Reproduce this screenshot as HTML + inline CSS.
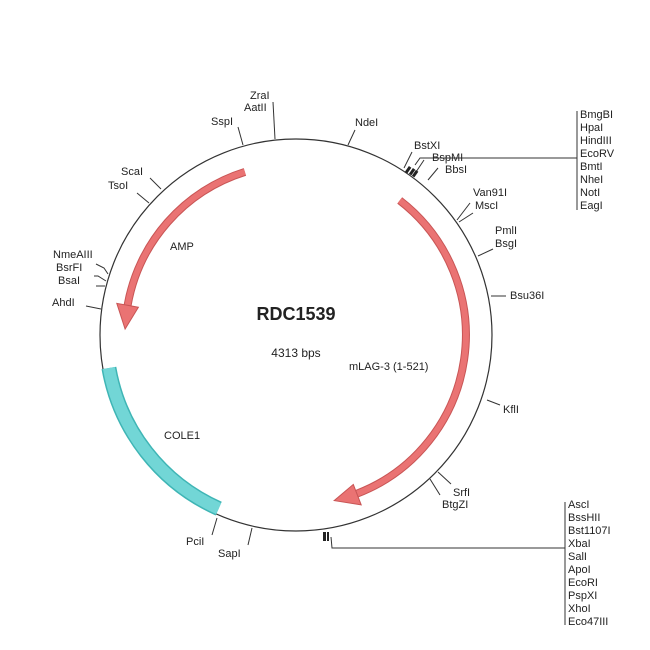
<!DOCTYPE html>
<html><head><style>
html,body{margin:0;padding:0;background:#fff;}
svg{display:block;font-family:"Liberation Sans",Arial,sans-serif;}
svg text{font-family:"Liberation Sans",Arial,sans-serif;font-size:11px;fill:#222;}
</style></head><body>
<svg width="650" height="650" viewBox="0 0 650 650" xmlns="http://www.w3.org/2000/svg">
<circle cx="296" cy="335" r="196" fill="none" stroke="#333" stroke-width="1.2"/>
<path d="M218.7,508.6 A190,190 0 0 1 108.9,368.0" fill="none" stroke="#3fb5b5" stroke-width="15"/>
<path d="M218.7,508.6 A190,190 0 0 1 108.9,368.0" fill="none" stroke="#72d6d6" stroke-width="12"/>
<path d="M399.7,200.4 A170,170 0 0 1 356.9,493.7" fill="none" stroke="#c85555" stroke-width="8"/>
<path d="M399.7,200.4 A170,170 0 0 1 356.9,493.7" fill="none" stroke="#ea7373" stroke-width="6"/>
<polygon points="353.3,484.4 361.2,504.9 334.2,500.6" fill="#ea7373" stroke="#c85555" stroke-width="1"/>
<path d="M244.9,171.9 A171,171 0 0 0 127.6,305.3" fill="none" stroke="#c85555" stroke-width="8"/>
<path d="M244.9,171.9 A171,171 0 0 0 127.6,305.3" fill="none" stroke="#ea7373" stroke-width="6"/>
<polygon points="138.4,307.2 116.8,303.4 125.1,329.0" fill="#ea7373" stroke="#c85555" stroke-width="1"/>

<g stroke="#333" stroke-width="1" fill="none">
<line x1="275" y1="139" x2="273" y2="102"/>
<line x1="243" y1="145" x2="238" y2="127"/>
<line x1="348" y1="145" x2="355" y2="130"/>
<line x1="404" y1="168" x2="412" y2="152"/>
<line x1="416" y1="172" x2="424" y2="160"/>
<line x1="428" y1="180" x2="438" y2="168"/>
<polyline points="415,165 420,158 577,158"/>
<line x1="577" y1="111" x2="577" y2="210"/>
<line x1="457" y1="220" x2="470" y2="203"/>
<line x1="459" y1="222" x2="473" y2="213"/>
<line x1="478" y1="256" x2="493" y2="249"/>
<line x1="491" y1="296" x2="506" y2="296"/>
<line x1="487" y1="400" x2="500" y2="405"/>
<line x1="438" y1="472" x2="451" y2="484"/>
<line x1="430" y1="479" x2="440" y2="495"/>
<polyline points="331,537 332,548 565,548"/>
<line x1="565" y1="502" x2="565" y2="625"/>
<line x1="252" y1="528" x2="248" y2="545"/>
<line x1="217" y1="518" x2="212" y2="535"/>
<line x1="161" y1="189" x2="150" y2="178"/>
<line x1="149" y1="203" x2="137" y2="193"/>
<polyline points="108,274 104,268 96,264"/>
<polyline points="106,281 98,276 94,276"/>
<polyline points="105,286 96,286"/>
<line x1="101" y1="309" x2="86" y2="306"/>
</g>
<g fill="#222">
<rect x="407" y="166" width="3" height="7" transform="rotate(35 408 169)"/>
<rect x="411" y="168" width="3" height="7" transform="rotate(35 412 171)"/>
<rect x="414" y="170" width="3" height="7" transform="rotate(35 415 173)"/>
<rect x="323" y="532" width="3" height="9"/>
<rect x="327" y="532" width="2" height="9"/>
</g>

<text x="250" y="99">ZraI</text>
<text x="244" y="111">AatII</text>
<text x="211" y="125">SspI</text>
<text x="355" y="126">NdeI</text>
<text x="414" y="149">BstXI</text>
<text x="432" y="161">BspMI</text>
<text x="445" y="173">BbsI</text>
<text x="580" y="118">BmgBI</text>
<text x="580" y="131">HpaI</text>
<text x="580" y="144">HindIII</text>
<text x="580" y="157">EcoRV</text>
<text x="580" y="170">BmtI</text>
<text x="580" y="183">NheI</text>
<text x="580" y="196">NotI</text>
<text x="580" y="209">EagI</text>
<text x="473" y="196">Van91I</text>
<text x="475" y="209">MscI</text>
<text x="495" y="234">PmlI</text>
<text x="495" y="247">BsgI</text>
<text x="510" y="299">Bsu36I</text>
<text x="503" y="413">KflI</text>
<text x="453" y="496">SrfI</text>
<text x="442" y="508">BtgZI</text>
<text x="568" y="508">AscI</text>
<text x="568" y="521">BssHII</text>
<text x="568" y="534">Bst1107I</text>
<text x="568" y="547">XbaI</text>
<text x="568" y="560">SalI</text>
<text x="568" y="573">ApoI</text>
<text x="568" y="586">EcoRI</text>
<text x="568" y="599">PspXI</text>
<text x="568" y="612">XhoI</text>
<text x="568" y="625">Eco47III</text>
<text x="218" y="557">SapI</text>
<text x="186" y="545">PciI</text>
<text x="121" y="175">ScaI</text>
<text x="108" y="189">TsoI</text>
<text x="53" y="258">NmeAIII</text>
<text x="56" y="271">BsrFI</text>
<text x="58" y="284">BsaI</text>
<text x="52" y="306">AhdI</text>
<text x="170" y="250">AMP</text>
<text x="349" y="370">mLAG-3 (1-521)</text>
<text x="164" y="439">COLE1</text>
<text x="296" y="320" text-anchor="middle" style="font-size:18px;font-weight:bold">RDC1539</text>
<text x="296" y="357" text-anchor="middle" style="font-size:12px">4313 bps</text>
</svg>
</body></html>
